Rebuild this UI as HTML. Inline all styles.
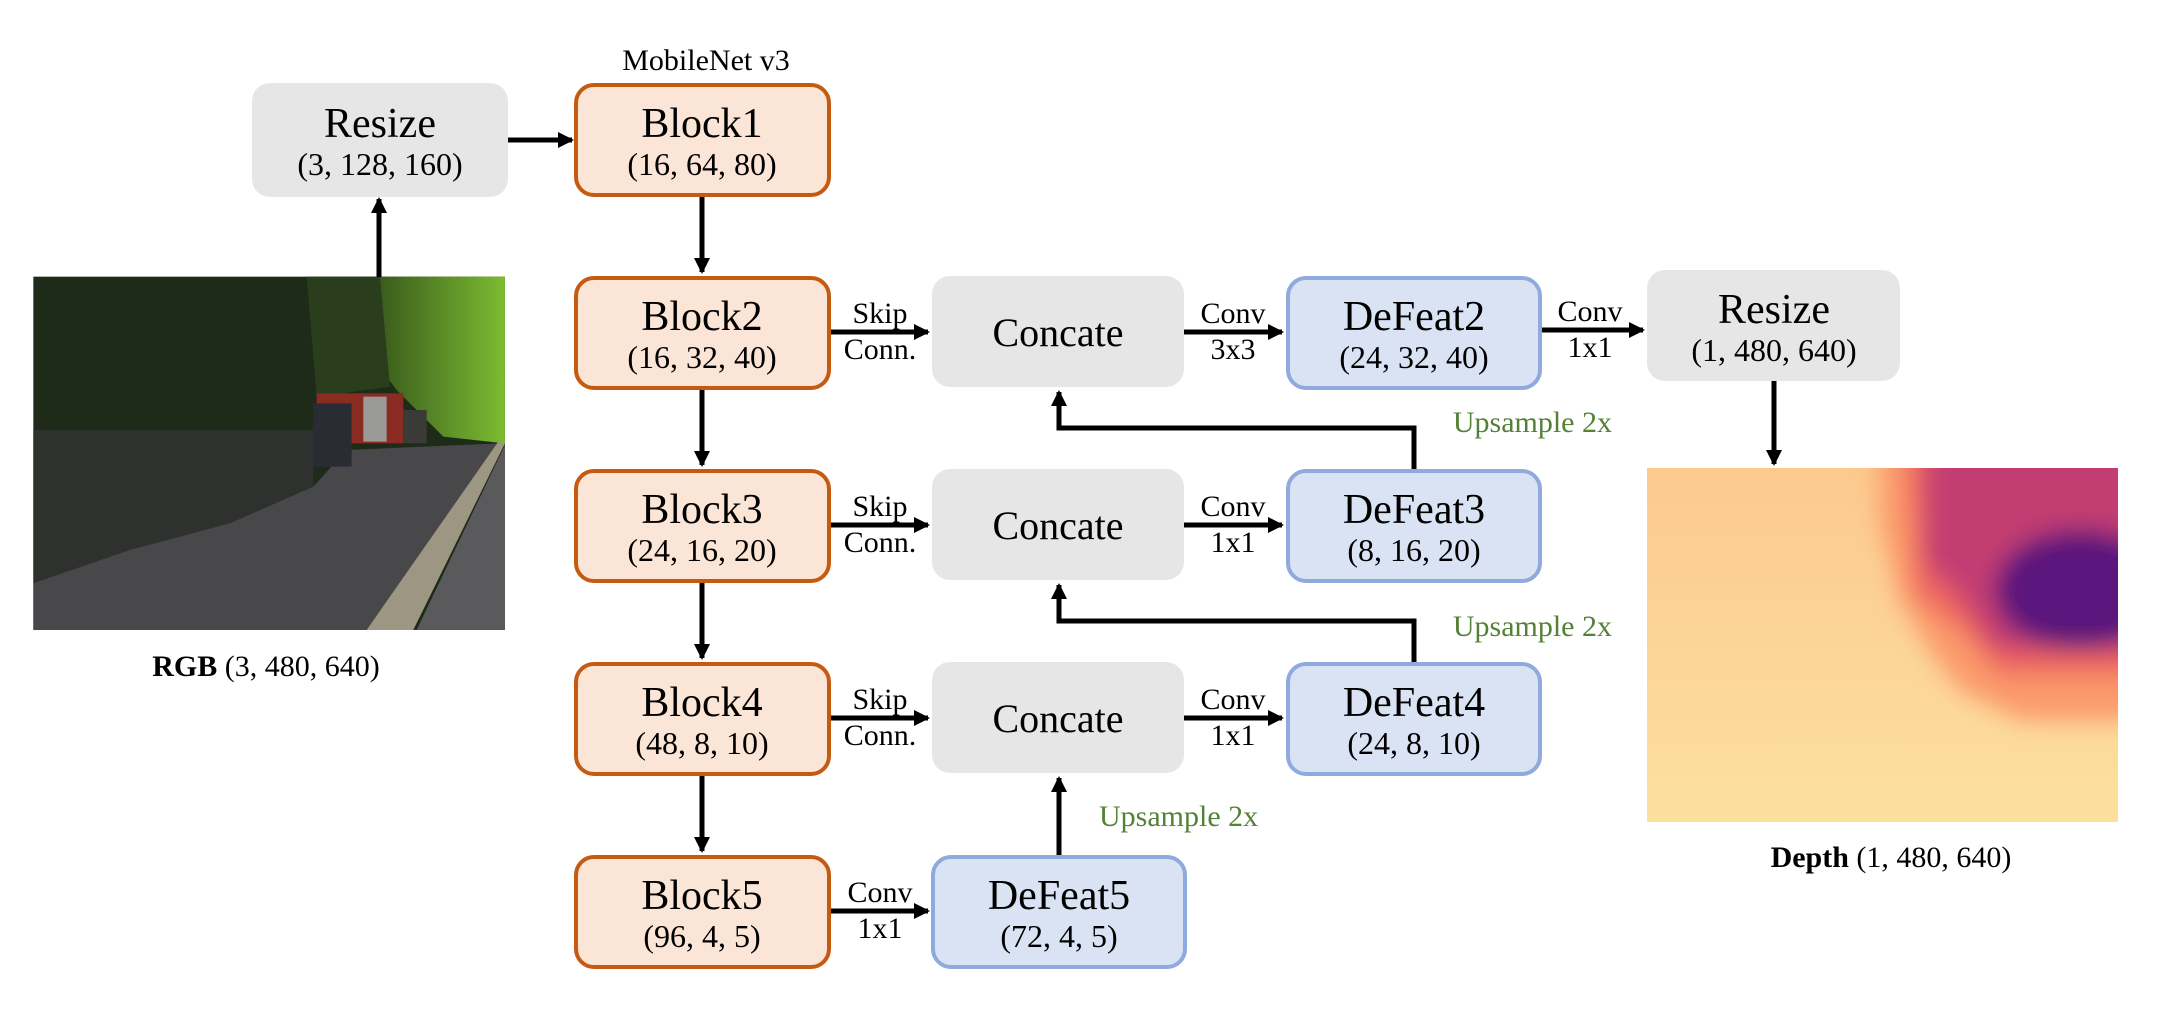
<!DOCTYPE html>
<html><head><meta charset="utf-8"><style>
html,body{margin:0;padding:0;background:#fff;width:2164px;height:1020px;overflow:hidden}
svg{display:block}
text{font-family:"Liberation Serif",serif;fill:#000}
.t{font-size:42px}.s{font-size:32px}.l{font-size:30px}.g{font-size:30px;fill:#538135}
</style></head><body>
<svg width="2164" height="1020" viewBox="0 0 2164 1020" xmlns="http://www.w3.org/2000/svg">
<defs>
<marker id="a" markerWidth="3.2" markerHeight="3.2" refX="2.8" refY="1.6" orient="auto" markerUnits="strokeWidth">
<path d="M0,0 L3.2,1.6 L0,3.2 z" fill="#000"/></marker>
<filter id="bl"><feGaussianBlur stdDeviation="12"/></filter>
<linearGradient id="dg" x1="0" y1="0" x2="0" y2="1"><stop offset="0" stop-color="#fcc98e"/><stop offset="1" stop-color="#fce0a0"/></linearGradient>
<linearGradient id="fg" x1="0" y1="0" x2="1" y2="0"><stop offset="0" stop-color="#2e4a18"/><stop offset="1" stop-color="#7cbc32"/></linearGradient>
<clipPath id="cp"><rect x="1647" y="468" width="471" height="354"/></clipPath>
</defs>

<!-- RGB photo -->
<g transform="translate(30,270) scale(0.3333)">
<rect x="10" y="20" width="1415" height="1060" fill="#1f2b19"/>
<polygon points="1000,20 1425,20 1425,520 1240,500 1100,360 980,200" fill="url(#fg)"/>
<polygon points="830,20 1050,20 1080,350 860,380" fill="#2a3d1c"/>
<polygon points="10,480 850,480 850,650 600,760 300,840 10,940" fill="#2f312f"/>
<polygon points="10,940 300,840 600,760 850,650 950,540 1410,520 1120,1080 10,1080" fill="#48484b"/>
<polygon points="1405,515 1425,520 1150,1080 1010,1080" fill="#9c9682"/>
<polygon points="1425,525 1425,1080 1160,1080" fill="#5a5a5c"/>
<rect x="860" y="370" width="260" height="150" fill="#8a2c22"/>
<rect x="1000" y="380" width="70" height="135" fill="#9a9a98"/>
<rect x="850" y="400" width="115" height="190" fill="#2a2c33"/>
<rect x="1120" y="420" width="70" height="100" fill="#3a3a36"/>
</g>
<line x1="379" y1="277" x2="379" y2="199" stroke="#000" stroke-width="5" marker-end="url(#a)"/>
<text x="266" y="676" class="l" text-anchor="middle"><tspan font-weight="bold">RGB</tspan> (3, 480, 640)</text>

<!-- Resize1 -->
<rect x="252" y="83" width="256" height="114" rx="18" fill="#e6e6e6"/>
<text x="380" y="137" class="t" text-anchor="middle">Resize</text>
<text x="380" y="175" class="s" text-anchor="middle">(3, 128, 160)</text>
<line x1="508" y1="140" x2="572" y2="140" stroke="#000" stroke-width="5" marker-end="url(#a)"/>

<text x="706" y="70" font-size="30" text-anchor="middle">MobileNet v3</text>

<!-- Blocks -->
<g fill="#fbe5d6" stroke="#c55a11" stroke-width="4">
<rect x="576" y="85" width="253" height="110" rx="18"/>
<rect x="576" y="278" width="253" height="110" rx="18"/>
<rect x="576" y="471" width="253" height="110" rx="18"/>
<rect x="576" y="664" width="253" height="110" rx="18"/>
<rect x="576" y="857" width="253" height="110" rx="18"/>
</g>
<g text-anchor="middle">
<text x="702" y="137" class="t">Block1</text><text x="702" y="175" class="s">(16, 64, 80)</text>
<text x="702" y="330" class="t">Block2</text><text x="702" y="368" class="s">(16, 32, 40)</text>
<text x="702" y="523" class="t">Block3</text><text x="702" y="561" class="s">(24, 16, 20)</text>
<text x="702" y="716" class="t">Block4</text><text x="702" y="754" class="s">(48, 8, 10)</text>
<text x="702" y="909" class="t">Block5</text><text x="702" y="947" class="s">(96, 4, 5)</text>
</g>
<g stroke="#000" stroke-width="5">
<line x1="702" y1="197" x2="702" y2="272" marker-end="url(#a)"/>
<line x1="702" y1="390" x2="702" y2="465" marker-end="url(#a)"/>
<line x1="702" y1="583" x2="702" y2="658" marker-end="url(#a)"/>
<line x1="702" y1="776" x2="702" y2="851" marker-end="url(#a)"/>
<line x1="831" y1="332" x2="928" y2="332" marker-end="url(#a)"/>
<line x1="831" y1="525" x2="928" y2="525" marker-end="url(#a)"/>
<line x1="831" y1="718" x2="928" y2="718" marker-end="url(#a)"/>
<line x1="831" y1="911" x2="928" y2="911" marker-end="url(#a)"/>
<line x1="1184" y1="332" x2="1282" y2="332" marker-end="url(#a)"/>
<line x1="1184" y1="525" x2="1282" y2="525" marker-end="url(#a)"/>
<line x1="1184" y1="718" x2="1282" y2="718" marker-end="url(#a)"/>
<line x1="1542" y1="330" x2="1643" y2="330" marker-end="url(#a)"/>
<line x1="1774" y1="381" x2="1774" y2="464" marker-end="url(#a)"/>
<polyline points="1414,471 1414,428 1059,428 1059,392" fill="none" marker-end="url(#a)"/>
<polyline points="1414,664 1414,621 1059,621 1059,585" fill="none" marker-end="url(#a)"/>
<line x1="1059" y1="855" x2="1059" y2="778" marker-end="url(#a)"/>
</g>
<g text-anchor="middle" class="l">
<text x="880" y="323" class="l">Skip</text><text x="880" y="359" class="l">Conn.</text>
<text x="880" y="516" class="l">Skip</text><text x="880" y="552" class="l">Conn.</text>
<text x="880" y="709" class="l">Skip</text><text x="880" y="745" class="l">Conn.</text>
<text x="880" y="902" class="l">Conv</text><text x="880" y="938" class="l">1x1</text>
<text x="1233" y="323" class="l">Conv</text><text x="1233" y="359" class="l">3x3</text>
<text x="1233" y="516" class="l">Conv</text><text x="1233" y="552" class="l">1x1</text>
<text x="1233" y="709" class="l">Conv</text><text x="1233" y="745" class="l">1x1</text>
<text x="1590" y="321" class="l">Conv</text><text x="1590" y="357" class="l">1x1</text>
</g>

<!-- Concate -->
<g fill="#e6e6e6">
<rect x="932" y="276" width="252" height="111" rx="18"/>
<rect x="932" y="469" width="252" height="111" rx="18"/>
<rect x="932" y="662" width="252" height="111" rx="18"/>
</g>
<g text-anchor="middle" font-size="40">
<text x="1058" y="346">Concate</text><text x="1058" y="539">Concate</text><text x="1058" y="732">Concate</text>
</g>

<!-- DeFeat -->
<g fill="#dae3f3" stroke="#8faadc" stroke-width="4">
<rect x="1288" y="278" width="252" height="110" rx="18"/>
<rect x="1288" y="471" width="252" height="110" rx="18"/>
<rect x="1288" y="664" width="252" height="110" rx="18"/>
<rect x="933" y="857" width="252" height="110" rx="18"/>
</g>
<g text-anchor="middle">
<text x="1414" y="330" class="t">DeFeat2</text><text x="1414" y="368" class="s">(24, 32, 40)</text>
<text x="1414" y="523" class="t">DeFeat3</text><text x="1414" y="561" class="s">(8, 16, 20)</text>
<text x="1414" y="716" class="t">DeFeat4</text><text x="1414" y="754" class="s">(24, 8, 10)</text>
<text x="1059" y="909" class="t">DeFeat5</text><text x="1059" y="947" class="s">(72, 4, 5)</text>
</g>
<text x="1612" y="432" class="g" text-anchor="end">Upsample 2x</text>
<text x="1612" y="636" class="g" text-anchor="end">Upsample 2x</text>
<text x="1099" y="826" class="g">Upsample 2x</text>

<!-- Resize2 -->
<rect x="1647" y="270" width="253" height="111" rx="18" fill="#e6e6e6"/>
<text x="1774" y="323" class="t" text-anchor="middle">Resize</text>
<text x="1774" y="361" class="s" text-anchor="middle">(1, 480, 640)</text>

<!-- Depth -->
<g clip-path="url(#cp)">
<rect x="1647" y="468" width="471" height="354" fill="url(#dg)"/>
<g filter="url(#bl)">
<polygon points="1880,440 2150,440 2150,720 2020,720 1960,690 1930,650 1900,600 1880,520" fill="#fb9a6a"/>
<polygon points="1905,440 2150,440 2150,675 2000,675 1960,630 1915,595" fill="#ee6460"/>
<polygon points="1925,440 2150,440 2150,650 1995,650 1955,590 1925,565" fill="#c23c72"/>
<ellipse cx="2080" cy="590" rx="85" ry="60" fill="#5a137c"/>
</g>
</g>
<text x="1891" y="867" class="l" text-anchor="middle"><tspan font-weight="bold">Depth</tspan> (1, 480, 640)</text>
</svg>
</body></html>
